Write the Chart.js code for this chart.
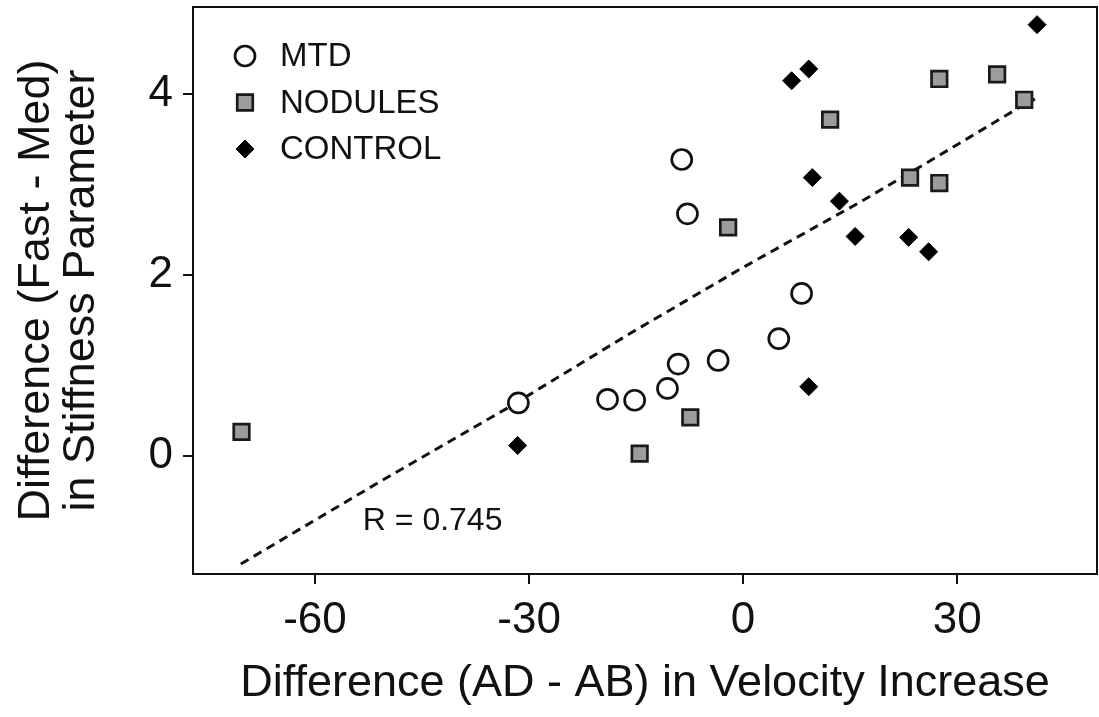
<!DOCTYPE html>
<html>
<head>
<meta charset="utf-8">
<script src="https://cdn.jsdelivr.net/npm/chart.js@4/dist/chart.umd.min.js"></script>
<style>
  html,body{margin:0;padding:0;background:#fff;}
  #wrap{width:1099px;height:717px;}
</style>
</head>
<body>
<div id="wrap"><canvas id="c" width="1099" height="717"></canvas></div>
<script>
// data
const mtdX = [-8.6, -7.8, 8.2, 5.0, -3.5, -9.1, -10.6, -15.2, -19.0, -31.5];
const mtdY = [3.28, 2.68, 1.80, 1.30, 1.06, 1.02, 0.75, 0.62, 0.63, 0.59];

const nodX = [-70.3, -14.5, -7.4, -2.1, 12.2, 23.4, 27.5, 27.5, 35.6, 39.4];
const nodY = [0.27, 0.03, 0.43, 2.53, 3.72, 3.08, 3.02, 4.17, 4.22, 3.94];

const ctlX = [-31.6, 9.2, 9.7, 13.5, 15.7, 23.2, 26.0, 41.2, 6.8, 9.2];
const ctlY = [0.12, 0.77, 3.08, 2.82, 2.43, 2.42, 2.26, 4.77, 4.15, 4.28];

// dashed regression line
const fitX = [-70.4, -50.9, -33.1, -15.8, -0.4, 16.4, 24.4, 38.4, 40.9];
const fitY = [-1.19, -0.28, 0.53, 1.36, 2.07, 2.81, 3.18, 3.84, 3.95];

const xTicks = [-60, -30, 0, 30];
const yTicks = [0, 2, 4];
const rLabel = 'R = 0.745';

const FONT = "'Liberation Sans', Arial, Helvetica, sans-serif";
const pts = (xs, ys)=>xs.map((x,i)=>({x, y: ys[i]}));
const noPad = (s)=>{ s.paddingTop = 0; s.paddingBottom = 0; s.paddingLeft = 0; s.paddingRight = 0; };

Chart.defaults.color = '#000';
Chart.defaults.font.family = FONT;

// frame around the plot
const framePlugin = {
  id:'frame',
  afterDraw(chart){
    const {ctx, chartArea:a} = chart;
    ctx.save();
    ctx.strokeStyle = '#111'; ctx.lineWidth = 2;
    ctx.strokeRect(a.left, a.top, a.right - a.left, a.bottom - a.top);
    ctx.restore();
  }
};

// legend inside top-left, plus the R label
const insideLegend = {
  id:'insideLegend',
  afterDraw(chart){
    const {ctx, chartArea:a, scales} = chart;
    ctx.save();
    const rows = chart.data.datasets.filter(d=>d.inLegend);
    rows.forEach((d,i)=>{
      const cx = a.left + 52, cy = a.top + 49 + i*46.5;
      ctx.fillStyle = d.backgroundColor;
      ctx.strokeStyle = d.borderColor;
      ctx.lineWidth = d.borderWidth;
      Chart.helpers.drawPoint(ctx, {pointStyle:d.pointStyle, radius:d.pointRadius, borderWidth:d.borderWidth, rotation:0}, cx, cy);
      ctx.fillStyle = '#111';
      ctx.font = '33px ' + FONT;
      ctx.textBaseline = 'middle';
      ctx.textAlign = 'left';
      ctx.fillText(d.label, a.left + 87, cy + 1);
    });
    ctx.font = '32px ' + FONT;
    ctx.textBaseline = 'alphabetic';
    ctx.fillStyle = '#111';
    ctx.fillText(rLabel, scales.x.getPixelForValue(-53.3), scales.y.getPixelForValue(-0.81));
    ctx.restore();
  }
};

new Chart(document.getElementById('c'), {
  type:'scatter',
  data:{
    datasets:[
      {label:'MTD', inLegend:true, data:pts(mtdX, mtdY), pointStyle:'circle', pointRadius:10, pointHoverRadius:10,
       backgroundColor:'#fff', borderColor:'#111', borderWidth:2.7},
      {label:'NODULES', inLegend:true, data:pts(nodX, nodY), pointStyle:'rect', pointRadius:11, pointHoverRadius:11,
       backgroundColor:'#9c9c9c', borderColor:'#1a1a1a', borderWidth:2.7},
      {label:'CONTROL', inLegend:true, data:pts(ctlX, ctlY), pointStyle:'rectRot', pointRadius:9, pointHoverRadius:9,
       backgroundColor:'#000', borderColor:'#000', borderWidth:1},
      {label:'fit', type:'line', data:pts(fitX, fitY), showLine:true, pointRadius:0, fill:false,
       borderColor:'#111', borderWidth:3, borderDash:[9,6], tension:0}
    ]
  },
  options:{
    responsive:false, animation:false,
    layout:{autoPadding:false, padding:{top:7, right:2, left:0, bottom:0}},
    plugins:{legend:{display:false}, tooltip:{enabled:false}},
    scales:{
      x:{
        type:'linear', min:-77.1, max:49.6,
        afterBuildTicks:(s)=>{ s.ticks = xTicks.map(v=>({value:v})); },
        afterFit:(s)=>{ s.height = 143; noPad(s); },
        grid:{drawOnChartArea:false, drawTicks:true, tickLength:10, color:'#111', lineWidth:2},
        border:{display:false},
        ticks:{font:{size:44, family:FONT}, padding:10, color:'#111', maxRotation:0},
        title:{display:true, text:'Difference (AD - AB) in Velocity Increase', color:'#111',
               font:{size:45, family:FONT, lineHeight:1.0}, padding:{top:0, bottom:11}}
      },
      y:{
        type:'linear', min:-1.30, max:4.965,
        afterBuildTicks:(s)=>{ s.ticks = yTicks.map(v=>({value:v})); },
        afterFit:(s)=>{ s.width = 193; noPad(s); },
        grid:{drawOnChartArea:false, drawTicks:true, tickLength:10, color:'#111', lineWidth:2},
        border:{display:false},
        ticks:{font:{size:44, family:FONT}, padding:10, color:'#111'},
        title:{display:true, text:['Difference (Fast - Med)', 'in Stiffness Parameter'], color:'#111',
               font:{size:45, family:FONT, lineHeight:1.0}, padding:{top:14.5, bottom:0}}
      }
    }
  },
  plugins:[framePlugin, insideLegend]
});
</script>
</body>
</html>
